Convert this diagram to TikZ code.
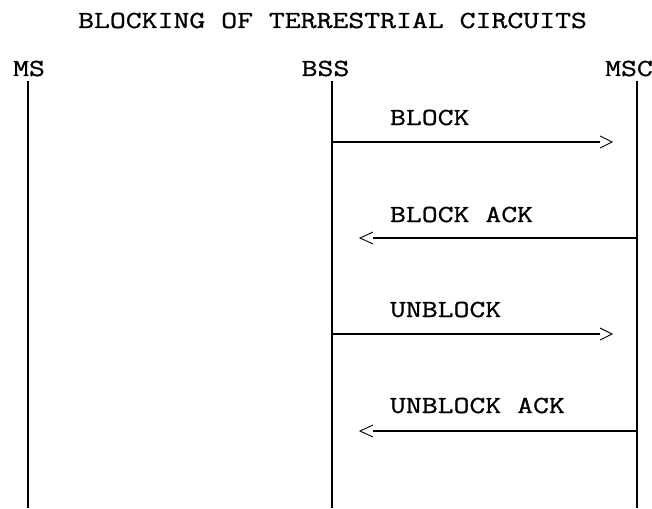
\documentclass[tikz,border=0pt]{standalone}
\usepackage{fontspec}
\setmonofont{Latin Modern Mono}[FakeStretch=1.26,FakeBold=1.0]
\begin{document}
\begin{tikzpicture}[x=1pt,y=-1pt,
  txt/.style={font=\ttfamily\fontsize{24.5}{28}\selectfont, inner sep=0pt, outer sep=0pt, text=black},
  lifeline/.style={line width=2pt, draw=black},
  msgline/.style={line width=1.4pt, draw=black},
  chev/.style={line width=0.9pt, draw=black, line join=miter}]
\useasboundingbox (0,0) rectangle (652,508);
% title
\node[txt, anchor=base] (title) at (332.5,28) {BLOCKING OF TERRESTRIAL CIRCUITS};
% entity labels
\node[txt, anchor=base] (ms) at (29,76) {MS};
\node[txt, anchor=base] (bss) at (325.5,76) {BSS};
\node[txt, anchor=base] (msc) at (629,76) {MSC};
% lifeline ends
\coordinate (mstop) at (28,81);
\coordinate (msbot) at (28,508);
\coordinate (bsstop) at (332,81);
\coordinate (bssbot) at (332,508);
\coordinate (msctop) at (637,81);
\coordinate (mscbot) at (637,508);
\draw[lifeline] (mstop) -- (msbot);
\draw[lifeline] (bsstop) -- (bssbot);
\draw[lifeline] (msctop) -- (mscbot);
% message points
\coordinate (b1s) at (332,142); \coordinate (b1e) at (600,142);
\coordinate (b2s) at (637,238); \coordinate (b2e) at (373,238);
\coordinate (b3s) at (332,334); \coordinate (b3e) at (600,334);
\coordinate (b4s) at (637,431); \coordinate (b4e) at (373,431);
% labels
\node[txt, anchor=base west] (l1) at (390,125) {BLOCK};
\node[txt, anchor=base west] (l2) at (390,222) {BLOCK ACK};
\node[txt, anchor=base west] (l3) at (390,317) {UNBLOCK};
\node[txt, anchor=base west] (l4) at (390,413) {UNBLOCK ACK};
% messages
\draw[msgline] (b1s) -- (b1e);
\draw[chev] (b1e) ++(0,-6) -- ++(12,6) -- ++(-12,6);
\draw[msgline] (b2s) -- (b2e);
\draw[chev] (b2e) ++(0,-6) -- ++(-13,6) -- ++(13,6);
\draw[msgline] (b3s) -- (b3e);
\draw[chev] (b3e) ++(0,-6) -- ++(12,6) -- ++(-12,6);
\draw[msgline] (b4s) -- (b4e);
\draw[chev] (b4e) ++(0,-6) -- ++(-13,6) -- ++(13,6);
\end{tikzpicture}
\end{document}
